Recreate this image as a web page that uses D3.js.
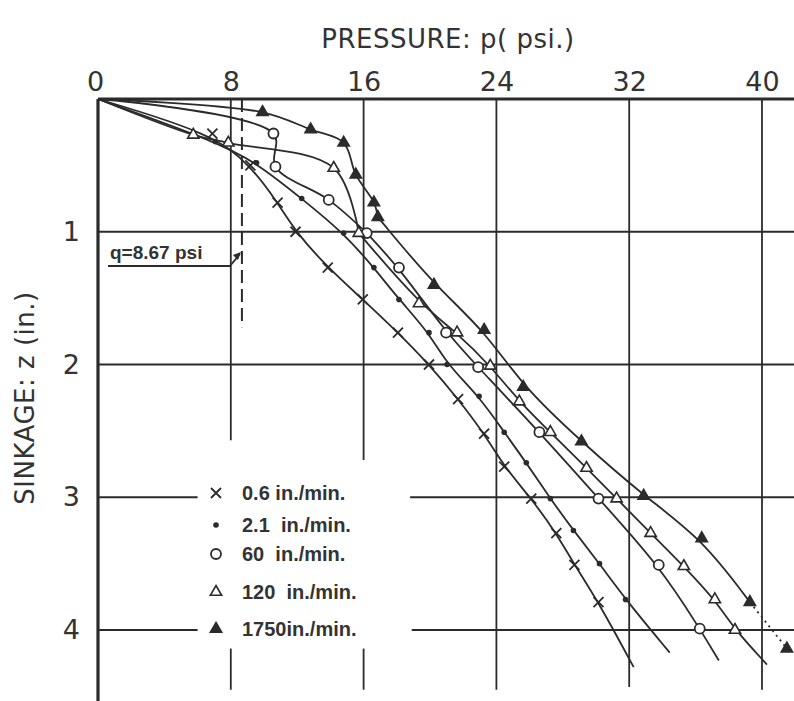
<!DOCTYPE html>
<html>
<head>
<meta charset="utf-8">
<script src="https://cdn.jsdelivr.net/npm/d3@7"></script>
<style>
  body { margin: 0; background: #fff; }
  #chart { width: 794px; height: 701px; }
  .tick text { font-family: "DejaVu Sans", sans-serif; fill: #333; }
</style>
</head>
<body>
<div id="chart"></div>
<script>
// pressure p (psi) / sinkage z (in.)
const xTicks = [0, 8, 16, 24, 32, 40];
const yTicks = [1, 2, 3, 4];

const s06 = [[6.89,0.26],[9.18,0.50],[10.82,0.78],[11.90,1.00],[13.84,1.27],[15.95,1.51],[18.07,1.76],[19.94,2.00],[21.69,2.26],[23.26,2.52],[24.47,2.77],[26.10,3.01],[27.61,3.27],[28.70,3.51],[30.15,3.79]];
const s21 = [[7.07,0.32],[9.55,0.48],[12.27,0.75],[14.80,1.01],[16.62,1.27],[18.13,1.51],[19.94,1.76],[21.03,2.00],[22.96,2.24],[24.47,2.51],[25.80,2.74],[27.25,3.01],[28.64,3.25],[30.21,3.50],[31.78,3.77]];
const s60 = [[10.57,0.26],[10.69,0.51],[13.90,0.76],[16.19,1.01],[18.13,1.27],[20.97,1.76],[22.90,2.02],[26.59,2.51],[30.15,3.01],[33.78,3.51],[36.25,3.99]];
const s120 = [[5.74,0.27],[7.85,0.33],[14.20,0.52],[15.71,1.01],[19.34,1.54],[21.63,1.76],[23.63,2.01],[25.38,2.28],[27.25,2.51],[29.43,2.78],[31.24,3.01],[33.29,3.27],[35.29,3.52],[37.16,3.77],[38.37,4.00]];
const s1750 = [[9.91,0.10],[12.81,0.23],[14.80,0.33],[15.53,0.57],[16.62,0.78],[16.86,0.89],[20.24,1.40],[23.26,1.74],[25.62,2.17],[29.12,2.58],[32.87,2.99],[36.37,3.31],[39.27,3.79]];
const s1750Extra = [[41.5,4.14]];
// where each drawn curve stops at the bottom
const curveEnds = { s06: [32.27,4.28], s21: [34.44,4.17], s60: [37.40,4.23], s120: [40.30,4.26] };
// number of readings the curve bends through sharply near the top
const kneeCount = { s06: 0, s21: 0, s60: 4, s120: 4, s1750: 6 };

const legendLabels = ["0.6 in./min.", "2.1  in./min.", "60  in./min.", "120  in./min.", "1750in./min."];
const qValue = 8.67;

const width = 794, height = 701;
const svg = d3.select("#chart").append("svg")
  .attr("width", width).attr("height", height);

const x = d3.scaleLinear().domain([0, 40]).range([98, 762]);
const y = d3.scaleLinear().domain([0, 4]).range([99, 630]);
const ink = "#2b2b2b";

// grid
const grid = svg.append("g").attr("stroke", ink).attr("stroke-width", 1.8);
// vertical lines, 8 and 16 broken by the legend
const vSegs = [
  [8, 0, 2.57], [8, 4.14, 4.45],
  [16, 0, 2.72], [16, 4.14, 4.45],
  [24, 0, 4.45], [32, 0, 4.43], [40, 0, 4.45]
];
grid.selectAll(".vg").data(vSegs).enter().append("line")
  .attr("x1", d => x(d[0])).attr("x2", d => x(d[0]))
  .attr("y1", d => y(d[1])).attr("y2", d => y(d[2]));
const hSegs = [
  [1, 0, 42.1], [2, 0, 42.1],
  [3, 0, 6.0], [3, 18.8, 42.1],
  [4, 0, 6.0], [4, 18.9, 42.1]
];
grid.selectAll(".hg").data(hSegs).enter().append("line")
  .attr("y1", d => y(d[0])).attr("y2", d => y(d[0]))
  .attr("x1", d => x(d[1])).attr("x2", d => x(d[2]));

// main axis lines
svg.append("line").attr("x1", x(0)).attr("x2", width).attr("y1", y(0)).attr("y2", y(0))
  .attr("stroke", ink).attr("stroke-width", 3.2);
svg.append("line").attr("x1", x(0)).attr("x2", x(0)).attr("y1", y(0)).attr("y2", height)
  .attr("stroke", ink).attr("stroke-width", 3.2);

// tick labels
const xAxis = svg.append("g").attr("transform", `translate(0,${y(0) - 6})`)
  .call(d3.axisTop(x).tickValues(xTicks).tickSize(0).tickPadding(2));
xAxis.select(".domain").remove();
xAxis.selectAll("text").attr("font-size", 27).attr("dx", d => d === 0 ? -3 : 0);

const yAxis = svg.append("g").attr("transform", `translate(${x(0) - 14},0)`)
  .call(d3.axisLeft(y).tickValues(yTicks).tickFormat(d3.format("d")).tickSize(0).tickPadding(4));
yAxis.select(".domain").remove();
yAxis.selectAll("text").attr("font-size", 27);

// titles
svg.append("text").attr("x", 448).attr("y", 48)
  .attr("text-anchor", "middle")
  .attr("font-family", "DejaVu Sans, sans-serif").attr("font-size", 26)
  .attr("fill", "#333").attr("letter-spacing", 0.5)
  .text("PRESSURE: p( psi.)");
svg.append("text").attr("transform", "translate(34,398) rotate(-90)")
  .attr("text-anchor", "middle")
  .attr("font-family", "DejaVu Sans, sans-serif").attr("font-size", 26)
  .attr("fill", "#333").attr("letter-spacing", 0.5)
  .text("SINKAGE: z (in.)");

// curves: pass through the knee readings, then a smoothed fairing below
const kneeLine = d3.line()
  .x(d => x(d[0])).y(d => y(d[1]))
  .curve(d3.curveCatmullRom.alpha(0.5));
const fairLine = d3.line()
  .x(d => x(d[0])).y(d => y(d[1]))
  .curve(d3.curveBasis);

const series = [
  { key: "s06", pts: s06, sym: "x" },
  { key: "s21", pts: s21, sym: "dot" },
  { key: "s60", pts: s60, sym: "circle" },
  { key: "s120", pts: s120, sym: "tri" },
  { key: "s1750", pts: s1750, sym: "tri-filled" }
];

series.forEach(s => {
  const path = [[0, 0]].concat(s.pts);
  if (curveEnds[s.key]) path.push(curveEnds[s.key]);
  const k = kneeCount[s.key];
  const top = path.slice(0, k + 1);
  const rest = path.slice(k);
  if (top.length > 1) {
    svg.append("path").attr("d", kneeLine(top))
      .attr("fill", "none").attr("stroke", ink).attr("stroke-width", 1.8);
  }
  svg.append("path").attr("d", fairLine(rest))
    .attr("fill", "none").attr("stroke", ink).attr("stroke-width", 1.8);
});
// dotted tail of the 1750 curve
svg.append("path").attr("d", fairLine([s1750[s1750.length - 1]].concat(s1750Extra)))
  .attr("fill", "none").attr("stroke", ink).attr("stroke-width", 1.8)
  .attr("stroke-dasharray", "2,4");

// markers
function drawSymbol(g, sym, cx, cy) {
  if (sym === "x") {
    g.append("path").attr("d", `M${cx-5},${cy-5}L${cx+5},${cy+5}M${cx+5},${cy-5}L${cx-5},${cy+5}`)
      .attr("stroke", ink).attr("stroke-width", 1.8);
  } else if (sym === "dot") {
    g.append("circle").attr("cx", cx).attr("cy", cy).attr("r", 2.8).attr("fill", ink);
  } else if (sym === "circle") {
    g.append("circle").attr("cx", cx).attr("cy", cy).attr("r", 5)
      .attr("fill", "#fff").attr("stroke", ink).attr("stroke-width", 1.8);
  } else {
    g.append("path").attr("d", d3.symbol().type(d3.symbolTriangle).size(55)())
      .attr("transform", `translate(${cx},${cy})`)
      .attr("fill", sym === "tri" ? "#fff" : ink)
      .attr("stroke", ink).attr("stroke-width", 1.6);
  }
}
series.forEach(s => {
  const g = svg.append("g");
  s.pts.forEach(d => drawSymbol(g, s.sym, x(d[0]), y(d[1])));
});
const extraG = svg.append("g");
s1750Extra.forEach(d => drawSymbol(extraG, "tri-filled", x(d[0]), y(d[1])));

// legend
const legend = svg.append("g").attr("transform", "translate(216,0)");
const legendY = [500, 532, 561, 599, 636];
legendLabels.forEach((label, i) => {
  drawSymbol(legend, series[i].sym, 0, legendY[i] - 7);
  legend.append("text").attr("x", 26).attr("y", legendY[i])
    .attr("font-family", "Liberation Sans, Arial, sans-serif")
    .attr("font-weight", "bold").attr("font-size", 20)
    .attr("fill", "#333").style("white-space", "pre")
    .text(label);
});

// q = 8.67 psi annotation
svg.append("line")
  .attr("x1", x(qValue)).attr("x2", x(qValue))
  .attr("y1", y(0)).attr("y2", y(1.72))
  .attr("stroke", ink).attr("stroke-width", 2)
  .attr("stroke-dasharray", "13,6");
svg.append("text").attr("x", 110).attr("y", 259)
  .attr("font-family", "Liberation Sans, Arial, sans-serif")
  .attr("font-weight", "bold").attr("font-size", 19)
  .attr("fill", "#333").text("q=8.67 psi");
svg.append("path")
  .attr("d", `M108,266H${x(qValue) - 12}L${x(qValue) - 2},254`)
  .attr("fill", "none").attr("stroke", ink).attr("stroke-width", 1.8);
svg.append("path")
  .attr("d", `M${x(qValue) - 1},252L${x(qValue) - 9},255L${x(qValue) - 4},260Z`)
  .attr("fill", ink);
</script>
</body>
</html>
